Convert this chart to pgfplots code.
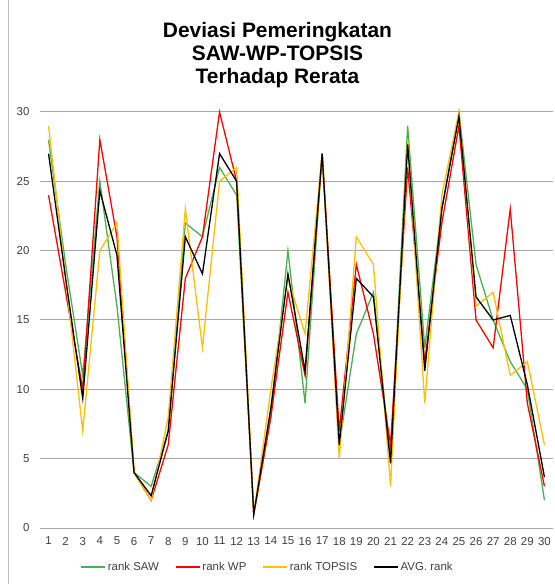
\documentclass[border=0pt]{standalone}
\usepackage{fontspec}
\setmainfont{Liberation Sans}
\usepackage{pgfplots}
\pgfplotsset{compat=1.18}
\definecolor{cSAW}{HTML}{4CAF50}
\definecolor{cWP}{HTML}{FF0000}
\definecolor{cTOP}{HTML}{FFC000}
\definecolor{cAVG}{HTML}{000000}
\definecolor{gridgray}{HTML}{A6A6A6}
\definecolor{labelgray}{HTML}{404040}
\begin{document}
\begin{tikzpicture}
\useasboundingbox (-40bp,-56bp) rectangle (515bp,528bp);
\draw[color=gridgray!70, line width=0.8bp] (-32bp,-56bp) -- (-32bp,528bp);
\node[anchor=base, font=\bfseries\fontsize{21}{23}\selectfont] at (237.5bp,490bp) {Deviasi Pemeringkatan};
\node[anchor=base, font=\bfseries\fontsize{21}{23}\selectfont] at (237.5bp,467bp) {SAW-WP-TOPSIS};
\node[anchor=base, font=\bfseries\fontsize{21}{23}\selectfont] at (237.5bp,444bp) {Terhadap Rerata};
\begin{axis}[
  scale only axis, width=513bp, height=416bp,
  xmin=0.5, xmax=30.5, ymin=0, ymax=30,
  xtick={1,...,30}, ytick={0,5,...,30},
  axis x line*=bottom, axis y line*=left,
  y axis line style={draw=none},
  x axis line style={color=gridgray, line width=1bp, -},
  ymajorgrids, major grid style={color=gridgray, line width=1bp},
  major tick length=0pt,
  tick label style={font=\fontsize{11.5}{13}\selectfont, text=labelgray},
  yticklabel style={xshift=-7bp},
  xticklabel style={yshift=-5.5bp},
  /pgf/number format/assume math mode=true,
  clip=false,
  legend columns=4,
  legend style={draw=white, fill=white, at={(axis description cs:0.4435,-0.094)}, anchor=center,
    font=\fontsize{11.5}{13}\selectfont,
    /tikz/every even column/.append style={column sep=14bp},
    inner sep=0pt},
  legend image code/.code={\draw[#1, line width=1.5bp] (0bp,0bp) -- (24bp,0bp);},
  every axis plot/.append style={line width=1.3bp, mark=none},
]
\addplot[color=cSAW] coordinates {(1,28)(2,19)(3,11)(4,25)(5,16)(6,4)(7,3)(8,7)(9,22)(10,21)(11,26)(12,24)(13,1)(14,8)(15,20)(16,9)(17,27)(18,6)(19,14)(20,17)(21,5)(22,29)(23,13)(24,23)(25,30)(26,19)(27,15)(28,12)(29,10)(30,2)};
\addlegendentry{\textcolor{labelgray}{rank SAW}}
\addplot[color=cWP] coordinates {(1,24)(2,17)(3,10)(4,28)(5,21)(6,4)(7,2)(8,6)(9,18)(10,21)(11,30)(12,25)(13,1)(14,8)(15,17)(16,11)(17,27)(18,7)(19,19)(20,14)(21,6)(22,26)(23,12)(24,22)(25,29)(26,15)(27,13)(28,23)(29,9)(30,3)};
\addlegendentry{\textcolor{labelgray}{rank WP}}
\addplot[color=cTOP] coordinates {(1,29)(2,18)(3,7)(4,20)(5,22)(6,4)(7,2)(8,8)(9,23)(10,13)(11,25)(12,26)(13,1)(14,10)(15,18)(16,14)(17,27)(18,5)(19,21)(20,19)(21,3)(22,28)(23,9)(24,24)(25,30)(26,16)(27,17)(28,11)(29,12)(30,6)};
\addlegendentry{\textcolor{labelgray}{rank TOPSIS}}
\addplot[color=cAVG] coordinates {(1,27)(2,18)(3,9.33)(4,24.33)(5,19.67)(6,4)(7,2.33)(8,7)(9,21)(10,18.33)(11,27)(12,25)(13,1)(14,8.67)(15,18.33)(16,11.33)(17,27)(18,6)(19,18)(20,16.67)(21,4.67)(22,27.67)(23,11.33)(24,23)(25,29.67)(26,16.67)(27,15)(28,15.33)(29,10.33)(30,3.67)};
\addlegendentry{\textcolor{labelgray}{AVG. rank}}
\end{axis}
\end{tikzpicture}
\end{document}
